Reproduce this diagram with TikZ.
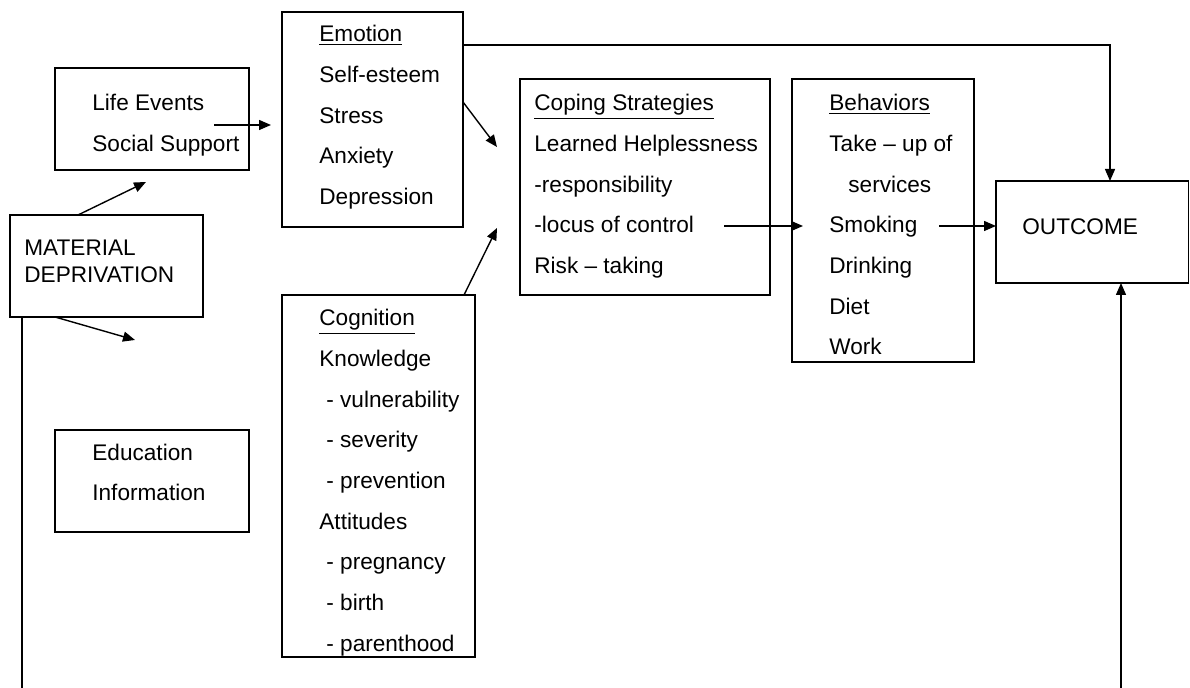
\documentclass[tikz,border=0pt]{standalone}
\usepackage{fontspec}
\setmainfont{Liberation Sans}
\usetikzlibrary{arrows.meta,calc}

\begin{document}
\begin{tikzpicture}[x=0.5pt, y=-0.5pt, >={Triangle[length=6pt,width=5pt]},
  every node/.style={font=\fontsize{11.3}{20.35}\selectfont},
  box/.style={draw, line width=0.6pt, inner sep=0pt, outer sep=0pt, anchor=north west},
  list/.style={align=left, inner sep=0pt, anchor=north west},
  link/.style={line width=0.7pt}]
  \useasboundingbox (0,0) rectangle (1190,688);
  % boxes
  \node[box, minimum width=97pt, minimum height=51pt] (life) at (55,68) {};
  \node[box, minimum width=90.5pt, minimum height=107.5pt] (emotion) at (282,12) {};
  \node[box, minimum width=96.5pt, minimum height=51pt] (md) at (10,215) {};
  \node[box, minimum width=97pt, minimum height=51pt] (edu) at (55,430) {};
  \node[box, minimum width=96.5pt, minimum height=181pt] (cog) at (282,295) {};
  \node[box, minimum width=125pt, minimum height=108pt] (cope) at (520,79) {};
  \node[box, minimum width=91pt, minimum height=141.5pt] (beh) at (792,79) {};
  \node[box, minimum width=96.25pt, minimum height=51pt] (out) at (996,181) {};
  % texts
  \node[list] (life-t) at (92,94) {Life Events\\Social Support};
  \node[list] (emotion-t) at (319,25) {\underline{Emotion}\\Self-esteem\\Stress\\Anxiety\\Depression};
  \node[list, font=\fontsize{11.3}{13.5}\selectfont] (md-t) at (24,240) {MATERIAL\\DEPRIVATION};
  \node[list, font=\fontsize{11.3}{20}\selectfont] (edu-t) at (92,444) {Education\\Information};
  \node[list] (cog-t) at (319,309) {\underline{Cognition}\\Knowledge\\\hspace*{3.5pt}- vulnerability\\\hspace*{3.5pt}- severity\\\hspace*{3.5pt}- prevention\\Attitudes\\\hspace*{3.5pt}- pregnancy\\\hspace*{3.5pt}- birth\\\hspace*{3.5pt}- parenthood};
  \node[list] (cope-t) at (534,94) {\underline{Coping Strategies}\\Learned Helplessness\\-responsibility\\-locus of control\\Risk – taking};
  \node[list] (beh-t) at (829,94) {\underline{Behaviors}\\Take – up of\\\hspace*{9.5pt}services\\Smoking\\Drinking\\Diet\\Work};
  \node[list] (out-t) at (1022,218) {OUTCOME};
  % free ends
  \coordinate (life-in) at (146,182);
  \coordinate (life-out) at (214,125);
  \coordinate (emotion-in) at (271,125);
  \coordinate (cope-in1) at (497,147);
  \coordinate (cope-in2) at (497,228);
  \coordinate (md-down) at (135,340);
  \coordinate (cope-out) at (724,226);
  \coordinate (beh-in) at (803,226);
  \coordinate (beh-out) at (939,226);
  \coordinate (foot-l) at (22,690);
  \coordinate (foot-r) at (1121,690);
  % connectors
  \draw[link, ->] ($(md.north west)+(68,0)$) -- (life-in);
  \draw[link, ->] (life-out) -- (emotion-in);
  \draw[link, ->] ($(emotion.north east)+(0,90)$) -- (cope-in1);
  \draw[link, ->] ($(cog.north east)+(-11,0)$) -- (cope-in2);
  \draw[link, ->] ($(md.south west)+(45,0)$) -- (md-down);
  \draw[link, ->] (cope-out) -- (beh-in);
  \draw[link, ->] (beh-out) -- ($(out.north west)+(0,45)$);
  \draw[link, ->] ($(emotion.north east)+(0,33)$) -| ($(out.north west)+(114,0)$);
  \draw[link] ($(md.south west)+(12,0)$) -- (foot-l);
  \draw[link, ->] (foot-r) -- ($(out.south west)+(125,0)$);
\end{tikzpicture}
\end{document}
